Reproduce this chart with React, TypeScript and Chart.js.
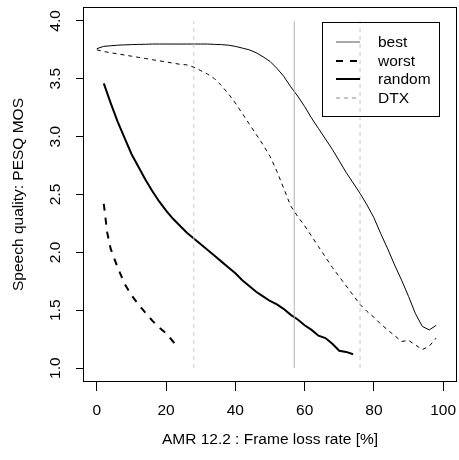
import React, { useEffect, useRef } from 'react';
import { Chart, registerables } from 'chart.js';

Chart.register(...registerables);

// ---- data ----
const bestX = [0, 2, 4, 6, 8, 10, 12, 14, 16, 18, 20, 22, 24, 26, 28, 30, 32, 34, 36, 38, 40, 42, 44, 46, 48, 50, 52, 54, 56, 58, 60, 62, 64, 66, 68, 70, 72, 74, 76, 78, 80, 82, 84, 86, 88, 90, 92, 94, 96, 98];
const bestY = [3.76, 3.78, 3.785, 3.79, 3.793, 3.795, 3.797, 3.798, 3.8, 3.8, 3.8, 3.8, 3.8, 3.8, 3.8, 3.8, 3.8, 3.797, 3.795, 3.79, 3.78, 3.765, 3.75, 3.725, 3.69, 3.65, 3.59, 3.52, 3.43, 3.35, 3.26, 3.16, 3.07, 2.98, 2.89, 2.79, 2.69, 2.6, 2.51, 2.41, 2.3, 2.16, 2.03, 1.89, 1.76, 1.62, 1.47, 1.36, 1.33, 1.37];

const worstX = [2, 3, 4, 6, 8, 10, 12, 14, 16, 18, 20, 22, 23];
const worstY = [2.42, 2.17, 2.03, 1.87, 1.73, 1.63, 1.55, 1.48, 1.41, 1.35, 1.3, 1.23, 1.19];

const randomX = [2, 4, 6, 8, 10, 12, 14, 16, 18, 20, 22, 24, 26, 28, 30, 32, 34, 36, 38, 40, 42, 44, 46, 48, 50, 52, 54, 56, 58, 60, 62, 64, 66, 68, 70, 72, 74];
const randomY = [3.46, 3.29, 3.13, 2.99, 2.85, 2.74, 2.63, 2.53, 2.44, 2.36, 2.29, 2.23, 2.17, 2.12, 2.07, 2.02, 1.97, 1.92, 1.87, 1.82, 1.76, 1.71, 1.66, 1.62, 1.58, 1.55, 1.51, 1.46, 1.42, 1.37, 1.33, 1.28, 1.26, 1.21, 1.15, 1.14, 1.12];

const dtxX = [0, 2, 4, 6, 8, 10, 12, 14, 16, 18, 20, 22, 24, 26, 28, 30, 32, 34, 36, 38, 40, 42, 44, 46, 48, 50, 52, 54, 56, 58, 60, 62, 64, 66, 68, 70, 72, 74, 76, 78, 80, 82, 84, 86, 88, 90, 92, 94, 96, 98];
const dtxY = [3.75, 3.735, 3.725, 3.715, 3.705, 3.695, 3.685, 3.675, 3.665, 3.655, 3.645, 3.635, 3.625, 3.62, 3.6, 3.57, 3.54, 3.5, 3.44, 3.37, 3.29, 3.2, 3.11, 3.02, 2.93, 2.83, 2.7, 2.55, 2.4, 2.31, 2.23, 2.14, 2.05, 1.96, 1.87, 1.79, 1.71, 1.63, 1.55, 1.49, 1.44, 1.38, 1.33, 1.28, 1.23, 1.24, 1.2, 1.16, 1.19, 1.26];

const refX = [28, 57, 76];
const refYRange = [1, 4];

const xTicks = [0, 20, 40, 60, 80, 100];
const yTicks = [1.0, 1.5, 2.0, 2.5, 3.0, 3.5, 4.0];

const xTitle = 'AMR 12.2 : Frame loss rate [%]';
const yTitle = 'Speech quality: PESQ MOS';

const FONT = "'Liberation Sans', Arial, Helvetica, sans-serif";
const FS = 15.5;

const pts = (xs: number[], ys: number[]) => xs.map((x, i) => ({ x, y: ys[i] }));

export default function App() {
  const ref = useRef<HTMLCanvasElement | null>(null);

  useEffect(() => {
    document.body.style.margin = '0';
    const canvas = ref.current;
    if (!canvas) return;

    const refDatasets = refX.map((x, i) => ({
      label: '__ref' + i,
      data: [{ x, y: refYRange[0] }, { x, y: refYRange[1] }],
      borderColor: i === 1 ? '#b4b4b4' : '#c8c8c8',
      borderWidth: 1,
      borderDash: i === 1 ? [] : [4, 4],
      pointRadius: 0,
      fill: false,
    }));

    const series = [
      { label: 'best', data: pts(bestX, bestY), borderColor: '#000', borderWidth: 1, borderDash: [] as number[] },
      { label: 'worst', data: pts(worstX, worstY), borderColor: '#000', borderWidth: 2, borderDash: [7, 7] },
      { label: 'random', data: pts(randomX, randomY), borderColor: '#000', borderWidth: 2, borderDash: [] as number[] },
      { label: 'DTX', data: pts(dtxX, dtxY), borderColor: '#000', borderWidth: 1, borderDash: [4, 4] },
    ].map((d) => ({ ...d, pointRadius: 0, fill: false, tension: 0 }));

    const boxPlugin = {
      id: 'rbox',
      afterDraw(chart: any) {
        const { ctx, chartArea } = chart;
        ctx.save();
        ctx.strokeStyle = '#000';
        ctx.lineWidth = 1;
        ctx.setLineDash([]);
        const l = Math.round(chartArea.left) + 0.5;
        const t = Math.round(chartArea.top) + 0.5;
        const r = Math.round(chartArea.right) - 0.5;
        const b = Math.round(chartArea.bottom) - 0.5;
        ctx.strokeRect(l, t, r - l, b - t);

        // legend (R style, transparent background)
        const lx0 = Math.round(chartArea.right) - 135;
        const ly0 = Math.round(chartArea.top) + 15;
        const lw = 117;
        const lh = 94;
        ctx.strokeRect(lx0 + 0.5, ly0 + 0.5, lw, lh);
        const rowH = 18.5;
        const firstY = ly0 + 20;
        ctx.font = `${FS}px ${FONT}`;
        ctx.fillStyle = '#000';
        ctx.textAlign = 'left';
        ctx.textBaseline = 'middle';
        series.forEach((it, i) => {
          const y = Math.round(firstY + i * rowH);
          ctx.beginPath();
          ctx.lineWidth = it.borderWidth;
          ctx.setLineDash(it.borderDash);
          ctx.strokeStyle = it.label === 'DTX' ? '#888' : it.label === 'best' ? '#555' : '#000';
          ctx.moveTo(lx0 + 14, y);
          ctx.lineTo(lx0 + 38, y);
          ctx.stroke();
          ctx.setLineDash([]);
          ctx.fillText(it.label, lx0 + 56, y + 1);
        });
        ctx.restore();
      },
    };

    const chart = new Chart(canvas, {
      type: 'line',
      data: { datasets: [...refDatasets, ...series] as any },
      options: {
        animation: false,
        responsive: false,
        events: [],
        layout: { padding: { top: 7, right: 2, left: 0, bottom: 0 } },
        plugins: { legend: { display: false }, tooltip: { enabled: false } },
        scales: {
          x: {
            type: 'linear',
            min: -4,
            max: 104,
            afterBuildTicks: (s: any) => { s.ticks = xTicks.map((v) => ({ value: v })); },
            afterFit: (s: any) => { s.height = 78; s.paddingLeft = 0; s.paddingRight = 0; },
            border: { display: false },
            grid: { drawOnChartArea: false, drawTicks: true, tickLength: 9, color: '#000', lineWidth: 1 },
            ticks: { font: { family: FONT, size: FS }, color: '#000', padding: 10, maxRotation: 0, minRotation: 0, autoSkip: false },
            title: { display: true, text: xTitle, color: '#000', font: { family: FONT, size: FS }, padding: { top: 0, bottom: 11 } },
          },
          y: {
            type: 'linear',
            min: 0.88,
            max: 4.12,
            afterBuildTicks: (s: any) => { s.ticks = yTicks.map((v) => ({ value: v })); },
            afterFit: (s: any) => { s.width = 83; s.paddingTop = 0; s.paddingBottom = 0; },
            border: { display: false },
            grid: { drawOnChartArea: false, drawTicks: true, tickLength: 7, color: '#000', lineWidth: 1 },
            ticks: {
              font: { family: FONT, size: FS }, color: '#000', padding: 10, minRotation: 90, maxRotation: 90,
              crossAlign: 'center', autoSkip: false,
              callback: (v: any) => Number(v).toFixed(1),
            },
            title: { display: true, text: yTitle, color: '#000', font: { family: FONT, size: FS }, padding: { top: 9, bottom: 0 } },
          },
        },
      } as any,
      plugins: [boxPlugin],
    });

    return () => chart.destroy();
  }, []);

  return <canvas ref={ref} width={459} height={460} style={{ display: 'block' }} />;
}
